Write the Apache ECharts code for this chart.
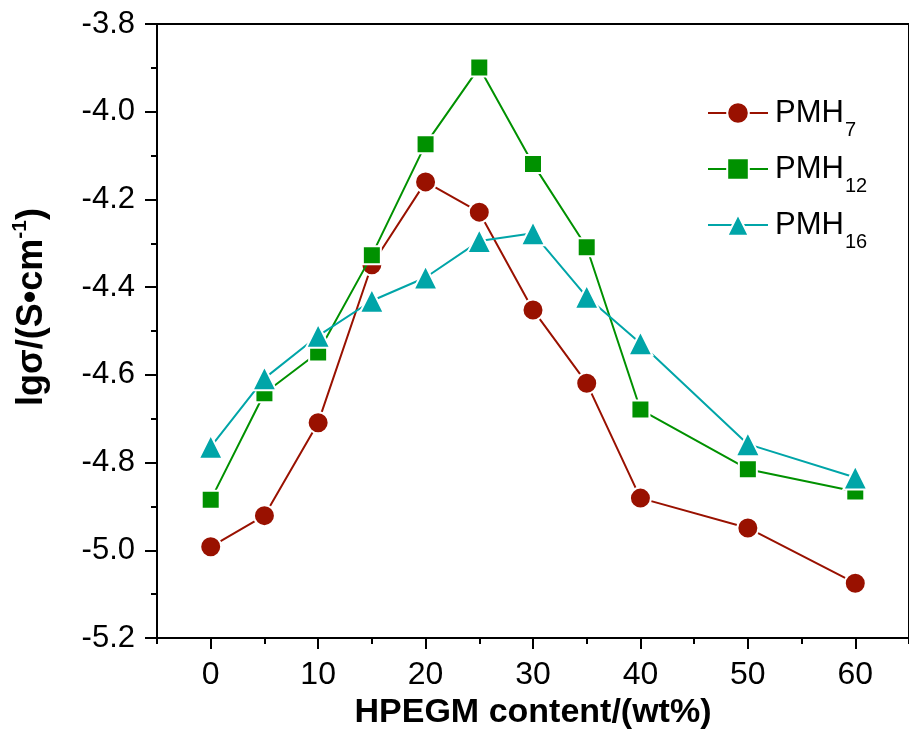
<!DOCTYPE html>
<html>
<head>
<meta charset="utf-8">
<script src="https://cdn.jsdelivr.net/npm/echarts@6/dist/echarts.min.js"></script>
<style>
  html, body {margin: 0; padding: 0; background: #fff;}
  #chart {width: 909px; height: 740px;}
</style>
</head>
<body>
<div id="chart"></div>
<script>
// HPEGM content (wt%)
const contents = [0, 5, 10, 15, 20, 25, 30, 35, 40, 50, 60];
const pmh7 = [-4.992, -4.921, -4.709, -4.349, -4.160, -4.229, -4.452, -4.619, -4.881, -4.949, -5.075];
const pmh12 = [-4.885, -4.642, -4.549, -4.327, -4.074, -3.899, -4.119, -4.309, -4.679, -4.815, -4.866];
const pmh16 = [-4.764, -4.608, -4.511, -4.431, -4.378, -4.295, -4.277, -4.422, -4.528, -4.758, -4.834];
const xMajorTicks = [0, 10, 20, 30, 40, 50, 60];
const xMinorTicks = [-5, 5, 15, 25, 35, 45, 55, 65];

const names = ['PMH7', 'PMH12', 'PMH16'];
const colors = ['#991100', '#009100', '#00a5a8'];
const symbols = ['circle', 'rect', 'triangle'];
const symbolSizes = [21, 18, 24];
const values = [pmh7, pmh12, pmh16];

const chart = echarts.init(document.getElementById('chart'));

let series = values.map((vals, i) => {
    return {
        name: names[i],
        type: 'line',
        data: contents.map((x, j) => [x, vals[j]]),
        symbol: symbols[i],
        symbolSize: symbolSizes[i],
        lineStyle: {color: colors[i], width: 2},
        itemStyle: {color: colors[i], borderColor: '#fff', borderWidth: 2},
        emphasis: {disabled: true},
        z: 2 + i
    }
});

const option = {
    animation: false,
    textStyle: {fontFamily: 'Liberation Sans, Arial, sans-serif', color: '#000'},
    grid: {
        left: 157,
        top: 24,
        width: 756,
        height: 614,
        show: true,
        borderColor: '#000',
        borderWidth: 2
    },
    legend: {
        orient: 'vertical',
        left: 702,
        top: 81,
        itemWidth: 60,
        itemHeight: 27,
        itemGap: 2,
        data: names,
        formatter: function (name) {
            return '{m|PMH}{s|' + name.slice(3) + '}';
        },
        textStyle: {
            rich: {
                m: {fontSize: 31, lineHeight: 30, color: '#000', padding: [0, 0, 0, 2], fontFamily: 'Liberation Sans'},
                s: {fontSize: 20, lineHeight: 30, color: '#000', padding: [34, 0, 0, 1], fontFamily: 'Liberation Sans'}
            }
        }
    },
    xAxis: [
        {
            type: 'value',
            min: -5,
            max: 65,
            position: 'bottom',
            name: 'HPEGM content/(wt%)',
            nameLocation: 'middle',
            nameGap: 46,
            nameTextStyle: {fontSize: 34, fontWeight: 'bold', color: '#000', fontFamily: 'Liberation Sans'},
            axisLine: {onZero: false, lineStyle: {color: '#000', width: 2}},
            axisTick: {show: true, customValues: xMajorTicks, length: 11, lineStyle: {color: '#000', width: 2}},
            axisLabel: {customValues: xMajorTicks, fontSize: 32, color: '#000', margin: 21, fontFamily: 'Liberation Sans'},
            splitLine: {show: false}
        },
        {
            type: 'value',
            min: -5,
            max: 65,
            position: 'bottom',
            axisLine: {show: false, onZero: false},
            axisTick: {show: true, customValues: xMinorTicks, length: 6, lineStyle: {color: '#000', width: 2}},
            axisLabel: {show: false},
            splitLine: {show: false}
        }
    ],
    yAxis: {
        type: 'value',
        min: -5.2,
        max: -3.8,
        interval: 0.2,
        name: '{a|lgσ/(S•cm}{s|-1}{a|)}',
        nameLocation: 'middle',
        nameGap: 106,
        nameTextStyle: {
            padding: [0, 0, 0, 48],
            rich: {
                a: {fontSize: 36, fontWeight: 'bold', color: '#000', lineHeight: 38, fontFamily: 'Liberation Sans'},
                s: {fontSize: 21, fontWeight: 'bold', color: '#000', lineHeight: 38, padding: [0, 0, 24, 0], fontFamily: 'Liberation Sans'}
            }
        },
        axisLine: {show: true, onZero: false, lineStyle: {color: '#000', width: 2}},
        axisTick: {show: true, length: 12, lineStyle: {color: '#000', width: 2}},
        minorTick: {show: true, splitNumber: 2, length: 6, lineStyle: {color: '#000', width: 2}},
        axisLabel: {
            fontSize: 31,
            color: '#000',
            margin: 22,
            fontFamily: 'Liberation Sans',
            formatter: function (v) { return v.toFixed(1); }
        },
        splitLine: {show: false}
    },
    series: series
};

chart.setOption(option);
</script>
</body>
</html>
